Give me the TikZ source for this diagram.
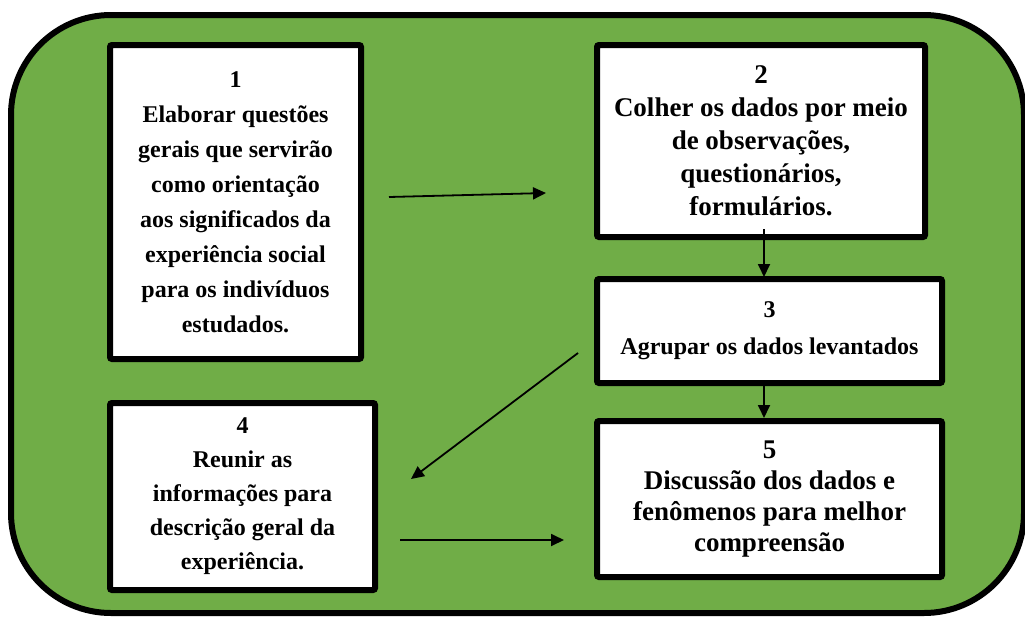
\documentclass[tikz,border=0pt]{standalone}
\usepackage{fontspec}
\setmainfont{Liberation Serif}
\usetikzlibrary{arrows.meta}
\definecolor{bggreen}{HTML}{70AD47}
\tikzset{
  stepbox/.style={draw=black, line width=6pt, fill=white, rounded corners=2pt,
    align=center, font=\bfseries\fontsize{24}{34}\selectfont, inner sep=0pt},
  bigtext/.style={font=\bfseries\fontsize{27}{33}\selectfont},
  flow/.style={line width=1.8pt, -{Triangle[length=13pt,width=12pt]}},
}
\begin{document}
\begin{tikzpicture}[x=1pt,y=-1pt]
\useasboundingbox (0,0) rectangle (1025,619);
\draw[fill=bggreen, line width=6pt, rounded corners=100pt] (11,15) rectangle (1024,613);
\node[stepbox, minimum width=251pt, minimum height=314pt,
  font=\bfseries\fontsize{24}{35}\selectfont] (b1) at (235.5,202)
  {1\\Elaborar questões\\gerais que servirão\\como orientação\\aos significados da\\experiência social\\para os indivíduos\\estudados.};
\node[stepbox, bigtext, minimum width=328pt, minimum height=192pt] (b2) at (761,141)
  {2\\Colher os dados por meio\\de observações,\\questionários,\\formulários.};
\node[stepbox, minimum width=345pt, minimum height=104pt,
  font=\bfseries\fontsize{24}{37}\selectfont] (b3) at (769.5,331)
  {3\\Agrupar os dados levantados};
\node[stepbox, minimum width=265pt, minimum height=187pt] (b4) at (242.5,496.5)
  {4\\Reunir as\\informações para\\descrição geral da\\experiência.};
\node[stepbox, font=\bfseries\fontsize{27}{31}\selectfont, minimum width=345pt, minimum height=156pt] (b5) at (769.5,499)
  {5\\Discussão dos dados e\\fenômenos para melhor\\compreensão};
\coordinate (a1s) at (389,197);
\coordinate (a1e) at (546,193);
\coordinate (a2s) at (764,229);
\coordinate (a2e) at (764,277);
\coordinate (a3s) at (764,383);
\coordinate (a3e) at (764,418);
\coordinate (a4s) at (578,353);
\coordinate (a4e) at (411,479);
\coordinate (a5s) at (400,540);
\coordinate (a5e) at (564,540);
\draw[flow] (a1s) -- (a1e);
\draw[flow] (a2s) -- (a2e);
\draw[flow] (a3s) -- (a3e);
\draw[flow] (a4s) -- (a4e);
\draw[flow] (a5s) -- (a5e);
\end{tikzpicture}
\end{document}
